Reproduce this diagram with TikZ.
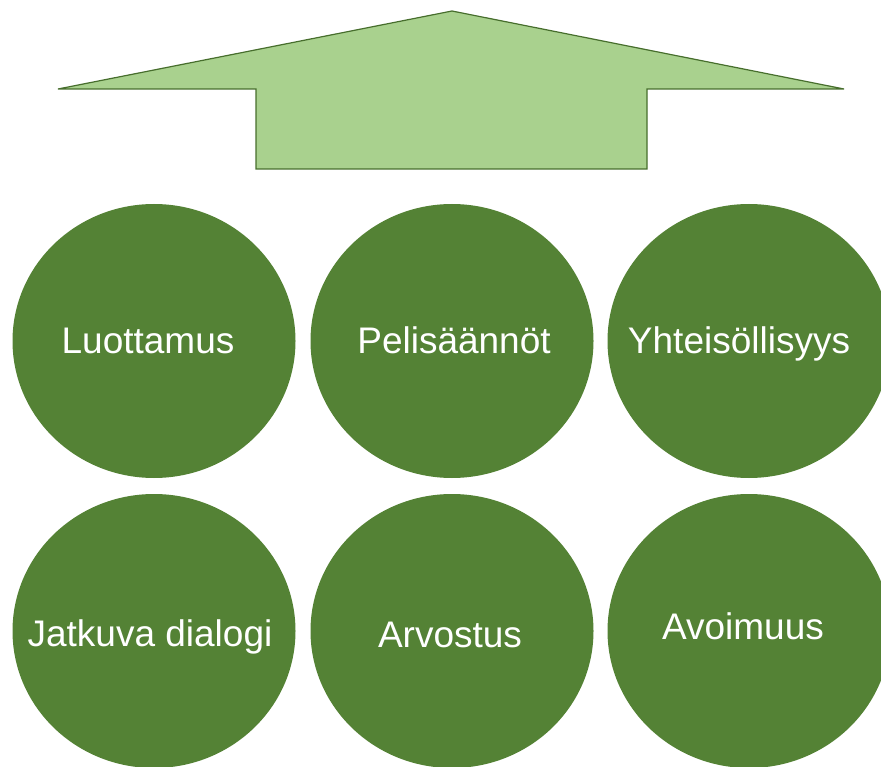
\documentclass[tikz,border=0pt]{standalone}
\usepackage{fontspec}
\setmainfont{Liberation Sans}
\usetikzlibrary{shapes.geometric}

\definecolor{tummavihrea}{RGB}{84,130,53}
\definecolor{vaaleavihrea}{RGB}{169,209,142}

\begin{document}
\begin{tikzpicture}[x=1pt, y=-1pt]
\useasboundingbox (0,0) rectangle (881,767);

% Nuoli
\coordinate (kärki) at (452,11);
\coordinate (vasen) at (58,89);
\coordinate (oikea) at (844,89);
\draw[fill = vaaleavihrea, draw = tummavihrea!85!black, line width = 1.2pt, line join = miter]
	(kärki) -- (oikea) -- (647,89) -- (647,169) -- (256,169) -- (256,89) -- (vasen) -- cycle;

% Ympyrät
\begin{scope}[
		every node/.style = {shape = ellipse, fill = tummavihrea,
		minimum width = 283pt, minimum height = 274pt, inner sep = 0pt}]
	\node (L) at (154,341) {};
	\node (P) at (452,341) {};
	\node (Y) at (749,341) {};
	\node (J) at (154,631) {};
	\node (A) at (452,631) {};
	\node (V) at (749,631) {};
\end{scope}

% Tekstit
\begin{scope}[
		every node/.style = {anchor = base, inner sep = 0pt,
		text = white, font = \fontsize{37}{42}\selectfont}]
	\node (Lt) at (148,353) {Luottamus};
	\node (Pt) at (454,353) {Pelisäännöt};
	\node (Yt) at (739,353) {Yhteisöllisyys};
	\node (Jt) at (150,646) {Jatkuva dialogi};
	\node (At) at (450,647) {Arvostus};
	\node (Vt) at (743,639) {Avoimuus};
\end{scope}
\end{tikzpicture}
\end{document}
